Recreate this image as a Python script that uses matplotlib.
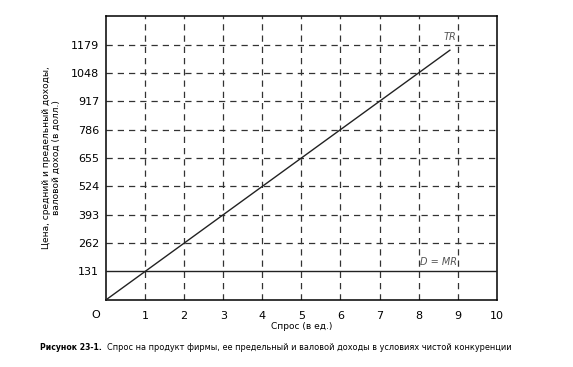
import numpy as np
import matplotlib.pyplot as plt

# данные
q_max = 8.8          # конец линии TR
price = 131          # цена = D = MR
x_ticks = [1, 2, 3, 4, 5, 6, 7, 8, 9, 10]
y_ticks = [131, 262, 393, 524, 655, 786, 917, 1048, 1179]

q = np.array([0, q_max])
tr = price * q
q_mr = np.array([0, 10])
mr = np.array([price, price])

fig = plt.figure(figsize=(5.73, 3.67), dpi=100)
ax = fig.add_axes([0.185, 0.183, 0.682, 0.773])

# сетка пунктиром
for xv in x_ticks[:-1]:
    ax.axvline(xv, color='#333333', lw=0.9, ls=(0, (5, 4)), zorder=1)
for yv in y_ticks[1:]:
    ax.axhline(yv, color='#333333', lw=0.9, ls=(0, (5, 4)), zorder=1)

ax.plot(q, tr, color='#222222', lw=1.0, zorder=3)
ax.plot(q_mr, mr, color='#222222', lw=1.0, zorder=3)

ax.text(8.8, 1213, 'TR', fontsize=7, style='italic', color='#555555', ha='center', va='center')
ax.text(8.5, 177, 'D = MR', fontsize=7, style='italic', color='#555555', ha='center', va='center')

ax.set_xlim(0, 10)
ax.set_ylim(0, 1310)
ax.set_xticks(x_ticks)
ax.set_yticks(y_ticks)
ax.tick_params(axis='y', length=0, labelsize=8, pad=5)
ax.tick_params(axis='x', length=0, labelsize=8, pad=8)
ax.text(-0.25, -45, 'O', fontsize=8, ha='center', va='top')

for s in ax.spines.values():
    s.set_linewidth(1.1)

ax.set_ylabel('Цена, средний и предельный доходы,\nваловой доход (в долл.)', fontsize=6.5, labelpad=7)
ax.set_xlabel('Спрос (в ед.)', fontsize=6.5, labelpad=1)

fig.text(0.07, 0.054, 'Рисунок 23-1.', fontsize=5.6, weight='bold', va='center')
fig.text(0.186, 0.054, 'Спрос на продукт фирмы, ее предельный и валовой доходы в условиях чистой конкуренции',
         fontsize=5.9, va='center')

fig.savefig('out.png', dpi=100)
